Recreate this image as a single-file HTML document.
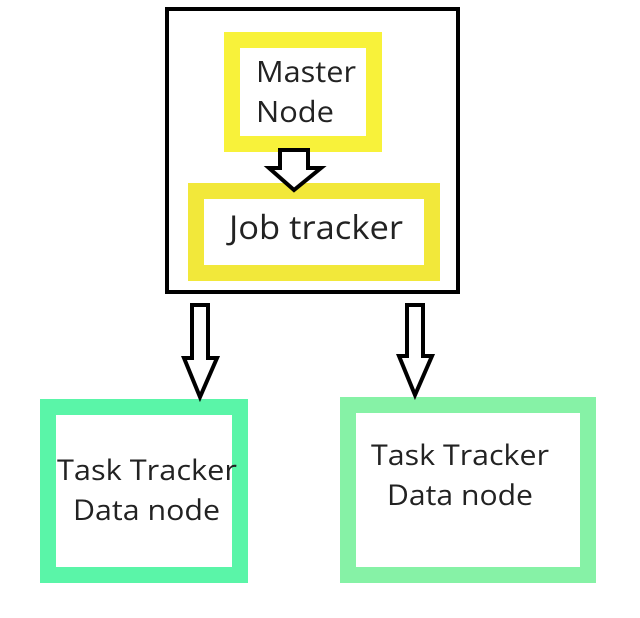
<!DOCTYPE html>
<html><head><style>
body{margin:0;background:#fff;width:640px;height:613px;overflow:hidden}
text{font-family:"Open Sans","DejaVu Sans","Liberation Sans",sans-serif;fill:#222}
</style></head><body>
<svg width="640" height="613" xmlns="http://www.w3.org/2000/svg">
<rect x="167" y="9" width="291" height="283" fill="none" stroke="#000" stroke-width="4"/>
<rect x="232" y="40" width="142" height="104" fill="none" stroke="#f8f23a" stroke-width="16"/>
<rect x="196" y="191" width="236" height="82" fill="none" stroke="#f2e83a" stroke-width="16"/>
<polygon points="280,150 308,150 308,168 321,168 294,190 269,168 280,168" fill="#fff" stroke="#000" stroke-width="4" stroke-linejoin="miter"/>
<rect x="48" y="407" width="192" height="168" fill="none" stroke="#5af5a8" stroke-width="16"/>
<rect x="348" y="405" width="240" height="170" fill="none" stroke="#86f2a6" stroke-width="16"/>
<polygon points="192,305 208,305 208,358 217,358 200,397 184,358 192,358" fill="#fff" stroke="#000" stroke-width="4"/>
<polygon points="407,305 423,305 423,356 432,356 415,395 399,356 407,356" fill="#fff" stroke="#000" stroke-width="4"/>
<text x="256" y="82" font-size="29" textLength="100" lengthAdjust="spacingAndGlyphs">Master</text>
<text x="256" y="122" font-size="29" textLength="78" lengthAdjust="spacingAndGlyphs">Node</text>
<text x="229" y="239" font-size="33" textLength="174" lengthAdjust="spacingAndGlyphs">Job tracker</text>
<text x="57" y="480" font-size="28" textLength="180" lengthAdjust="spacingAndGlyphs">Task Tracker</text>
<text x="73" y="520" font-size="28" textLength="147" lengthAdjust="spacingAndGlyphs">Data node</text>
<text x="371" y="465" font-size="28" textLength="178" lengthAdjust="spacingAndGlyphs">Task Tracker</text>
<text x="387" y="505" font-size="28" textLength="146" lengthAdjust="spacingAndGlyphs">Data node</text>
</svg>
</body></html>
